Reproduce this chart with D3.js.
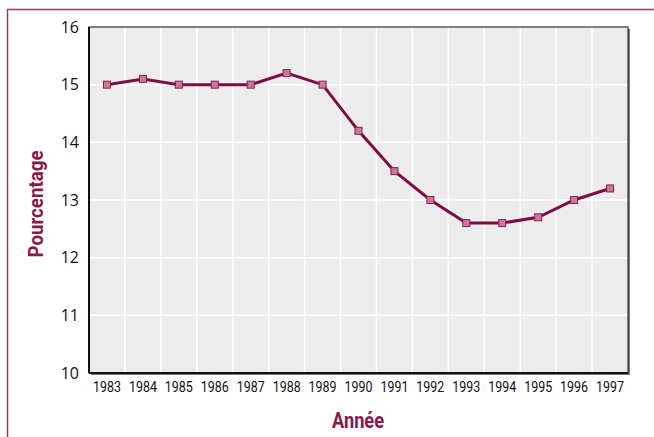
<!DOCTYPE html>
<html><head><meta charset="utf-8">
<script src="https://cdn.jsdelivr.net/npm/d3@7"></script>
<style>body{margin:0;background:#fff}svg{display:block}</style>
</head><body>
<svg id="c" width="654" height="437"></svg>
<script>
const years = ["1983","1984","1985","1986","1987","1988","1989","1990","1991","1992","1993","1994","1995","1996","1997"];
const values = [15.0,15.1,15.0,15.0,15.0,15.2,15.0,14.2,13.5,13.0,12.6,12.6,12.7,13.0,13.2];
const yTicks = [10,11,12,13,14,15,16];

const svg = d3.select("#c");
const L = 89, R = 628, T = 27, B = 373;
const maroon = "#7b0f45";

// frame
svg.append("line").attr("x1",7.5).attr("x2",654).attr("y1",9.5).attr("y2",9.5).attr("stroke","#a0356a").attr("stroke-width",1.5);
svg.append("line").attr("x1",7.5).attr("x2",7.5).attr("y1",9).attr("y2",437).attr("stroke","#a0356a").attr("stroke-width",1.5);

const x = d3.scaleBand().domain(years).range([L,R]);
const y = d3.scaleLinear().domain([10,16]).range([B,T]);

// shadow
svg.append("rect").attr("x",L+2).attr("y",T+2).attr("width",R-L).attr("height",B-T).attr("fill","#777");
svg.append("rect").attr("x",L).attr("y",T).attr("width",R-L).attr("height",B-T).attr("fill","#ececec");

// grid
svg.append("g").selectAll("line").data(years.slice(1)).join("line")
  .attr("x1",d=>x(d)).attr("x2",d=>x(d)).attr("y1",T).attr("y2",B)
  .attr("stroke","#fff").attr("stroke-width",1.5);
svg.append("g").selectAll("line").data(yTicks.slice(1,-1)).join("line")
  .attr("x1",L).attr("x2",R).attr("y1",d=>y(d)).attr("y2",d=>y(d))
  .attr("stroke","#fff").attr("stroke-width",1.5);

// box border
svg.append("rect").attr("x",L).attr("y",T).attr("width",R-L).attr("height",B-T)
  .attr("fill","none").attr("stroke","#333").attr("stroke-width",1.2);
svg.append("line").attr("x1",L).attr("x2",L).attr("y1",T).attr("y2",B).attr("stroke","#111").attr("stroke-width",2);
svg.append("line").attr("x1",L).attr("x2",R).attr("y1",B).attr("y2",B).attr("stroke","#111").attr("stroke-width",2);

// axes
const yAxis = d3.axisLeft(y).tickValues(yTicks).tickFormat(d3.format("d")).tickSize(0).tickPadding(10);
const gy = svg.append("g").attr("transform",`translate(${L},0)`).call(yAxis);
gy.select(".domain").remove();
gy.selectAll("text").attr("font-family","'Open Sans', sans-serif").attr("font-size",16).attr("fill","#111");

const xAxis = d3.axisBottom(x).tickSize(0).tickPadding(9);
const gx = svg.append("g").attr("transform",`translate(0,${B})`).call(xAxis);
gx.select(".domain").remove();
gx.selectAll("text").attr("font-family","Roboto, sans-serif").attr("font-size",14.5).attr("fill","#111")
  .attr("textLength",28).attr("lengthAdjust","spacingAndGlyphs");

// line
const pts = years.map((yr,i)=>({yr, v: values[i]}));
const cx = d => x(d.yr) + x.bandwidth()/2;
svg.append("path").datum(pts)
  .attr("d", d3.line().x(cx).y(d=>y(d.v)))
  .attr("fill","none").attr("stroke",maroon).attr("stroke-width",3);
svg.append("g").selectAll("rect").data(pts).join("rect")
  .attr("x",d=>cx(d)-3.5).attr("y",d=>y(d.v)-3.5).attr("width",7).attr("height",7)
  .attr("fill","#c9799c").attr("stroke","#8a1f52").attr("stroke-width",1);

// titles
svg.append("text").attr("x",358).attr("y",428).attr("text-anchor","middle")
  .attr("font-family","Roboto, sans-serif").attr("font-weight","bold").attr("font-size",22)
  .attr("textLength",52).attr("lengthAdjust","spacingAndGlyphs")
  .attr("fill","#8a1848").text("Année");
svg.append("text").attr("transform",`translate(43,204) rotate(-90)`).attr("text-anchor","middle")
  .attr("font-family","Roboto, sans-serif").attr("font-weight","bold").attr("font-size",21)
  .attr("textLength",107).attr("lengthAdjust","spacingAndGlyphs")
  .attr("fill","#8a1848").text("Pourcentage");
</script>
</body></html>
